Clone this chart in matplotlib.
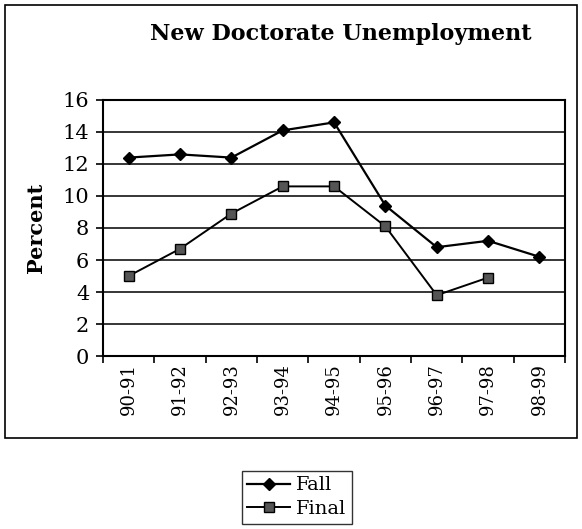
import numpy as np
import matplotlib.pyplot as plt
from matplotlib.patches import Rectangle

years = ["90-91", "91-92", "92-93", "93-94", "94-95", "95-96", "96-97", "97-98", "98-99"]
fall = [12.4, 12.6, 12.4, 14.1, 14.6, 9.4, 6.8, 7.2, 6.2]
final = [5.0, 6.7, 8.9, 10.6, 10.6, 8.1, 3.8, 4.9]

plt.rcParams['font.family'] = ['DejaVu Serif']

fig = plt.figure(figsize=(5.82, 5.29), dpi=100)
ax = fig.add_axes([0.177, 0.327, 0.794, 0.484])

# outer chart border
fig.patches.append(Rectangle((0.009, 0.172), 0.982, 0.819, transform=fig.transFigure,
                             fill=False, edgecolor='black', linewidth=1.2))

x = np.arange(len(years))
ax.plot(x, fall, color='black', lw=1.6, marker='D', markersize=6.5,
        markerfacecolor='black', markeredgecolor='black', label='Fall')
ax.plot(x[:len(final)], final, color='black', lw=1.4, marker='s', markersize=7.5,
        markerfacecolor='#555555', markeredgecolor='black', label='Final')

ax.set_xlim(-0.5, len(years) - 0.5)
ax.set_ylim(0, 16)
ax.set_yticks(range(0, 17, 2))
ax.yaxis.grid(True, color='black', lw=1.1)
ax.set_axisbelow(True)

ax.set_xticks(np.arange(-0.5, len(years), 1))
ax.set_xticklabels([])
ax.set_xticks(x, minor=True)
ax.set_xticklabels(years, minor=True, rotation=90, fontsize=13)
ax.tick_params(axis='x', which='minor', length=0, pad=5)
ax.tick_params(axis='x', which='major', length=5, width=1.2)
ax.tick_params(axis='y', length=5, width=1.2, labelsize=15, pad=5)

for s in ax.spines.values():
    s.set_linewidth(1.5)

ax.set_ylabel("Percent", fontsize=15, fontweight='bold', labelpad=12)
fig.text(0.585, 0.935, "New Doctorate Unemployment", ha='center', va='center',
         fontsize=16, fontweight='bold')

leg = fig.legend(loc='center', bbox_to_anchor=(0.51, 0.06), fontsize=14,
                 frameon=True, fancybox=False, edgecolor='black', handlelength=2.2,
                 borderpad=0.3, labelspacing=0.3, handletextpad=0.3)
leg.get_frame().set_linewidth(1.0)

fig.savefig("out.png", dpi=100)
